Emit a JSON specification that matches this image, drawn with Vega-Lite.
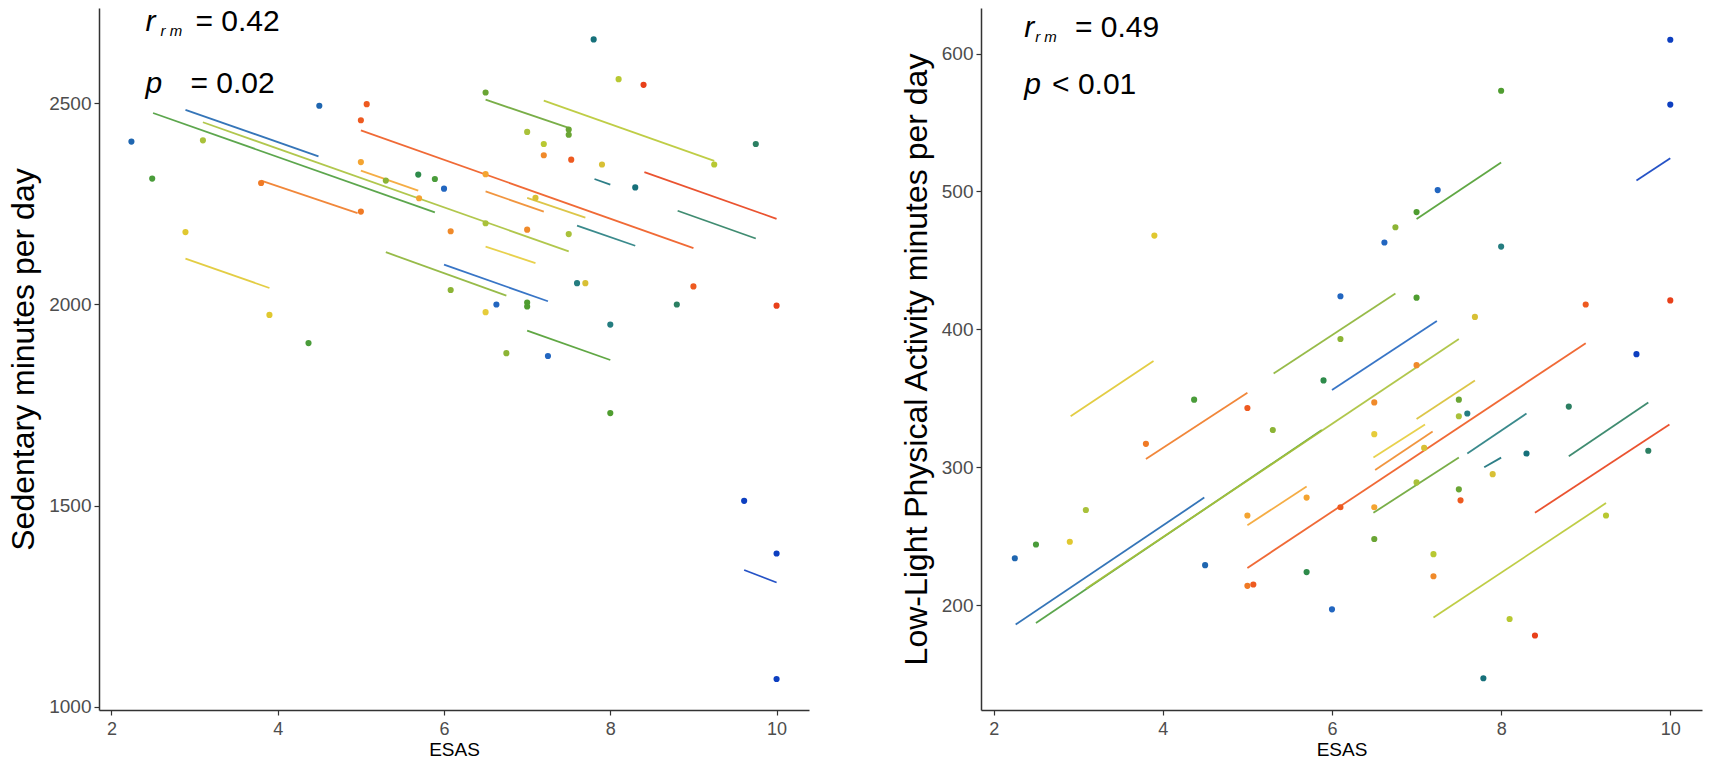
{
  "$schema": "https://vega.github.io/schema/vega-lite/v6.json",
  "background": "white",
  "padding": {"left": 7, "top": 7, "right": 5, "bottom": 0},
  "spacing": 91,
  "config": {
    "view": {"stroke": null},
    "font": "Liberation Sans",
    "axis": {
      "grid": false,
      "domainColor": "#333333",
      "domainWidth": 1.5,
      "tickColor": "#333333",
      "tickWidth": 1.2,
      "tickSize": 5,
      "labelColor": "#4d4d4d",
      "labelFont": "Liberation Sans",
      "titleFont": "Liberation Sans",
      "titleColor": "#000000",
      "titleFontWeight": "normal",
      "format": "d"
    },
    "axisX": {"labelFontSize": 18, "titleFontSize": 19, "labelPadding": 5, "titlePadding": 2},
    "axisY": {"labelFontSize": 19, "titleFontSize": 32, "labelPadding": 3, "titlePadding": 8}
  },
  "datasets": {
    "sedLines": [
      {"participant": "S01", "x1": 2.50, "y1": 2476, "x2": 5.89, "y2": 2229},
      {"participant": "S02", "x1": 2.89, "y1": 2484, "x2": 4.49, "y2": 2368},
      {"participant": "S03", "x1": 3.10, "y1": 2453, "x2": 7.50, "y2": 2132},
      {"participant": "S04", "x1": 3.80, "y1": 2308, "x2": 4.96, "y2": 2227},
      {"participant": "S05", "x1": 2.89, "y1": 2114, "x2": 3.90, "y2": 2041},
      {"participant": "S06", "x1": 5.00, "y1": 2433, "x2": 9.00, "y2": 2140},
      {"participant": "S07", "x1": 5.00, "y1": 2333, "x2": 5.69, "y2": 2283},
      {"participant": "S08", "x1": 5.30, "y1": 2130, "x2": 6.75, "y2": 2022},
      {"participant": "S09", "x1": 6.00, "y1": 2099, "x2": 7.25, "y2": 2008},
      {"participant": "S10", "x1": 6.50, "y1": 2509, "x2": 7.50, "y2": 2439},
      {"participant": "S11", "x1": 7.20, "y1": 2507, "x2": 9.25, "y2": 2357},
      {"participant": "S12", "x1": 7.81, "y1": 2312, "x2": 8.00, "y2": 2298},
      {"participant": "S13", "x1": 8.41, "y1": 2329, "x2": 10.0, "y2": 2213},
      {"participant": "S14", "x1": 8.81, "y1": 2233, "x2": 9.75, "y2": 2164},
      {"participant": "S15", "x1": 6.50, "y1": 2281, "x2": 7.20, "y2": 2231},
      {"participant": "S16", "x1": 7.00, "y1": 2265, "x2": 7.70, "y2": 2216},
      {"participant": "S17", "x1": 7.60, "y1": 2196, "x2": 8.30, "y2": 2146},
      {"participant": "S18", "x1": 6.50, "y1": 2144, "x2": 7.10, "y2": 2103},
      {"participant": "S19", "x1": 7.00, "y1": 1935, "x2": 8.00, "y2": 1862},
      {"participant": "S20", "x1": 9.61, "y1": 1340, "x2": 10.0, "y2": 1309}
    ],
    "sedPoints": [
      {"participant": "S02", "esas": 2.24, "minutes": 2405},
      {"participant": "S01", "esas": 2.49, "minutes": 2313},
      {"participant": "S03", "esas": 3.10, "minutes": 2408},
      {"participant": "S05", "esas": 2.89, "minutes": 2180},
      {"participant": "S04", "esas": 3.80, "minutes": 2302},
      {"participant": "S05", "esas": 3.90, "minutes": 1974},
      {"participant": "S01", "esas": 4.37, "minutes": 1904},
      {"participant": "S02", "esas": 4.50, "minutes": 2494},
      {"participant": "S06", "esas": 5.07, "minutes": 2498},
      {"participant": "S06", "esas": 5.00, "minutes": 2458},
      {"participant": "S07", "esas": 5.00, "minutes": 2354},
      {"participant": "S04", "esas": 5.00, "minutes": 2231},
      {"participant": "S08", "esas": 5.30, "minutes": 2308},
      {"participant": "S21", "esas": 5.69, "minutes": 2323},
      {"participant": "S01", "esas": 5.89, "minutes": 2312},
      {"participant": "S09", "esas": 6.00, "minutes": 2288},
      {"participant": "S07", "esas": 5.70, "minutes": 2264},
      {"participant": "S15", "esas": 6.08, "minutes": 2182},
      {"participant": "S08", "esas": 6.08, "minutes": 2036},
      {"participant": "S12", "esas": 7.80, "minutes": 2659},
      {"participant": "S11", "esas": 8.10, "minutes": 2560},
      {"participant": "S13", "esas": 8.40, "minutes": 2546},
      {"participant": "S10", "esas": 6.50, "minutes": 2527},
      {"participant": "S03", "esas": 7.00, "minutes": 2429},
      {"participant": "S10", "esas": 7.50, "minutes": 2435},
      {"participant": "S10", "esas": 7.50, "minutes": 2422},
      {"participant": "S11", "esas": 7.20, "minutes": 2399},
      {"participant": "S15", "esas": 7.20, "minutes": 2371},
      {"participant": "S06", "esas": 7.53, "minutes": 2360},
      {"participant": "S16", "esas": 7.90, "minutes": 2348},
      {"participant": "S11", "esas": 9.25, "minutes": 2348},
      {"participant": "S14", "esas": 9.75, "minutes": 2399},
      {"participant": "S07", "esas": 6.50, "minutes": 2324},
      {"participant": "S12", "esas": 8.30, "minutes": 2291},
      {"participant": "S16", "esas": 7.10, "minutes": 2265},
      {"participant": "S03", "esas": 6.50, "minutes": 2202},
      {"participant": "S15", "esas": 7.00, "minutes": 2186},
      {"participant": "S03", "esas": 7.50, "minutes": 2175},
      {"participant": "S17", "esas": 7.60, "minutes": 2053},
      {"participant": "S16", "esas": 7.70, "minutes": 2053},
      {"participant": "S06", "esas": 9.00, "minutes": 2045},
      {"participant": "S19", "esas": 7.00, "minutes": 2005},
      {"participant": "S19", "esas": 7.00, "minutes": 1995},
      {"participant": "S09", "esas": 6.63, "minutes": 2000},
      {"participant": "S18", "esas": 6.50, "minutes": 1981},
      {"participant": "S14", "esas": 8.80, "minutes": 2000},
      {"participant": "S17", "esas": 8.00, "minutes": 1950},
      {"participant": "S08", "esas": 6.75, "minutes": 1879},
      {"participant": "S09", "esas": 7.25, "minutes": 1872},
      {"participant": "S13", "esas": 10.0, "minutes": 1997},
      {"participant": "S19", "esas": 8.00, "minutes": 1730},
      {"participant": "S20", "esas": 9.61, "minutes": 1512},
      {"participant": "S20", "esas": 10.0, "minutes": 1381},
      {"participant": "S20", "esas": 10.0, "minutes": 1069}
    ],
    "lpaLines": [
      {"participant": "S01", "x1": 2.50, "y1": 187, "x2": 5.88, "y2": 327},
      {"participant": "S02", "x1": 2.26, "y1": 186, "x2": 4.49, "y2": 278},
      {"participant": "S03", "x1": 3.09, "y1": 212, "x2": 7.50, "y2": 393},
      {"participant": "S04", "x1": 3.80, "y1": 306, "x2": 5.00, "y2": 354},
      {"participant": "S05", "x1": 2.91, "y1": 337, "x2": 3.89, "y2": 377},
      {"participant": "S06", "x1": 5.00, "y1": 227, "x2": 9.00, "y2": 390},
      {"participant": "S07", "x1": 5.00, "y1": 258, "x2": 5.70, "y2": 286},
      {"participant": "S08", "x1": 5.31, "y1": 368, "x2": 6.75, "y2": 426},
      {"participant": "S09", "x1": 6.00, "y1": 356, "x2": 7.24, "y2": 406},
      {"participant": "S10", "x1": 6.49, "y1": 267, "x2": 7.50, "y2": 307},
      {"participant": "S11", "x1": 7.20, "y1": 191, "x2": 9.24, "y2": 274},
      {"participant": "S12", "x1": 7.80, "y1": 300, "x2": 8.00, "y2": 307},
      {"participant": "S13", "x1": 8.40, "y1": 267, "x2": 9.99, "y2": 331},
      {"participant": "S14", "x1": 8.80, "y1": 308, "x2": 9.74, "y2": 347},
      {"participant": "S15", "x1": 6.51, "y1": 298, "x2": 7.19, "y2": 326},
      {"participant": "S16", "x1": 7.00, "y1": 335, "x2": 7.69, "y2": 363},
      {"participant": "S17", "x1": 7.60, "y1": 310, "x2": 8.30, "y2": 339},
      {"participant": "S18", "x1": 6.49, "y1": 307, "x2": 7.10, "y2": 331},
      {"participant": "S19", "x1": 7.00, "y1": 480, "x2": 8.00, "y2": 521},
      {"participant": "S20", "x1": 9.60, "y1": 508, "x2": 10.0, "y2": 524}
    ],
    "lpaPoints": [
      {"participant": "S02", "esas": 2.25, "minutes": 234},
      {"participant": "S01", "esas": 2.50, "minutes": 244},
      {"participant": "S05", "esas": 2.90, "minutes": 246},
      {"participant": "S03", "esas": 3.09, "minutes": 269},
      {"participant": "S04", "esas": 3.80, "minutes": 317},
      {"participant": "S05", "esas": 3.90, "minutes": 468},
      {"participant": "S01", "esas": 4.37, "minutes": 349},
      {"participant": "S02", "esas": 4.50, "minutes": 229},
      {"participant": "S06", "esas": 5.00, "minutes": 343},
      {"participant": "S08", "esas": 5.30, "minutes": 327},
      {"participant": "S21", "esas": 5.90, "minutes": 363},
      {"participant": "S08", "esas": 6.10, "minutes": 393},
      {"participant": "S07", "esas": 5.00, "minutes": 265},
      {"participant": "S07", "esas": 5.70, "minutes": 278},
      {"participant": "S04", "esas": 5.00, "minutes": 214},
      {"participant": "S06", "esas": 5.07, "minutes": 215},
      {"participant": "S21", "esas": 5.70, "minutes": 224},
      {"participant": "S06", "esas": 6.10, "minutes": 271},
      {"participant": "S09", "esas": 6.00, "minutes": 197},
      {"participant": "S15", "esas": 6.50, "minutes": 347},
      {"participant": "S18", "esas": 6.50, "minutes": 324},
      {"participant": "S07", "esas": 6.50, "minutes": 271},
      {"participant": "S10", "esas": 6.50, "minutes": 248},
      {"participant": "S15", "esas": 7.00, "minutes": 374},
      {"participant": "S10", "esas": 7.50, "minutes": 349},
      {"participant": "S03", "esas": 7.50, "minutes": 337},
      {"participant": "S17", "esas": 7.60, "minutes": 339},
      {"participant": "S16", "esas": 7.09, "minutes": 314},
      {"participant": "S03", "esas": 7.00, "minutes": 289},
      {"participant": "S10", "esas": 7.50, "minutes": 284},
      {"participant": "S06", "esas": 7.52, "minutes": 276},
      {"participant": "S16", "esas": 7.90, "minutes": 295},
      {"participant": "S12", "esas": 8.30, "minutes": 310},
      {"participant": "S14", "esas": 8.80, "minutes": 344},
      {"participant": "S20", "esas": 9.60, "minutes": 382},
      {"participant": "S14", "esas": 9.74, "minutes": 312},
      {"participant": "S11", "esas": 9.24, "minutes": 265},
      {"participant": "S11", "esas": 7.20, "minutes": 237},
      {"participant": "S15", "esas": 7.20, "minutes": 221},
      {"participant": "S11", "esas": 8.10, "minutes": 190},
      {"participant": "S13", "esas": 8.40, "minutes": 178},
      {"participant": "S12", "esas": 7.79, "minutes": 147},
      {"participant": "S20", "esas": 10.0, "minutes": 610},
      {"participant": "S19", "esas": 8.00, "minutes": 573},
      {"participant": "S20", "esas": 10.0, "minutes": 563},
      {"participant": "S09", "esas": 7.25, "minutes": 501},
      {"participant": "S19", "esas": 7.00, "minutes": 485},
      {"participant": "S08", "esas": 6.75, "minutes": 474},
      {"participant": "S09", "esas": 6.62, "minutes": 463},
      {"participant": "S17", "esas": 8.00, "minutes": 460},
      {"participant": "S09", "esas": 6.10, "minutes": 424},
      {"participant": "S19", "esas": 7.00, "minutes": 423},
      {"participant": "S16", "esas": 7.69, "minutes": 409},
      {"participant": "S06", "esas": 9.00, "minutes": 418},
      {"participant": "S13", "esas": 10.0, "minutes": 421}
    ],
    "sedText": [
      {"kind": "symbol", "esas": 2.41, "minutes": 2679, "label": "r"},
      {"kind": "subscript", "esas": 2.59, "minutes": 2667, "label": "r m"},
      {"kind": "value", "esas": 3.01, "minutes": 2679, "label": "= 0.42"},
      {"kind": "symbol", "esas": 2.41, "minutes": 2525, "label": "p"},
      {"kind": "value", "esas": 2.95, "minutes": 2525, "label": "= 0.02"}
    ],
    "lpaText": [
      {"kind": "symbol", "esas": 2.36, "minutes": 612, "label": "r"},
      {"kind": "subscript", "esas": 2.49, "minutes": 608, "label": "r m"},
      {"kind": "value", "esas": 2.96, "minutes": 612, "label": "= 0.49"},
      {"kind": "symbol", "esas": 2.36, "minutes": 571, "label": "p"},
      {"kind": "value", "esas": 2.69, "minutes": 571, "label": "< 0.01"}
    ]
  },
  "hconcat": [
    {
      "width": 710,
      "height": 702,
      "layer": [
        {
          "data": {"name": "sedLines"},
          "mark": {"type": "rule", "strokeWidth": 1.8, "opacity": 0.9},
          "encoding": {
            "x": {
              "field": "x1", "type": "quantitative", "title": "ESAS",
              "scale": {"domain": [1.85, 10.39], "nice": false, "zero": false},
              "axis": {"values": [2, 4, 6, 8, 10]}
            },
            "y": {
              "field": "y1", "type": "quantitative", "title": "Sedentary minutes per day",
              "scale": {"domain": [992, 2737], "nice": false, "zero": false},
              "axis": {"values": [1000, 1500, 2000, 2500]}
            },
            "x2": {"field": "x2"},
            "y2": {"field": "y2"},
            "color": {
              "field": "participant", "type": "nominal", "legend": null,
              "scale": {
                "domain": ["S01","S02","S03","S04","S05","S06","S07","S08","S09","S10","S11","S12","S13","S14","S15","S16","S17","S18","S19","S20","S21"],
                "range": ["#4a9c3a","#1f66b0","#a9c13a","#f07a25","#e0c830","#ee5a20","#f4a431","#8cb435","#2266c0","#6aa534","#b8c832","#16707a","#e8401a","#2b7f62","#f08a2a","#d8c035","#257d80","#e6cc3a","#4f9d30","#0d3fc0","#2e8b4a"]
              }
            }
          }
        },
        {
          "data": {"name": "sedPoints"},
          "mark": {"type": "circle", "size": 38, "opacity": 1},
          "encoding": {
            "x": {"field": "esas", "type": "quantitative", "title": "ESAS"},
            "y": {"field": "minutes", "type": "quantitative", "title": "Sedentary minutes per day"},
            "color": {"field": "participant", "type": "nominal", "legend": null}
          }
        },
        {
          "data": {"name": "sedText"},
          "transform": [{"filter": "datum.kind === 'symbol'"}],
          "mark": {"type": "text", "align": "left", "baseline": "alphabetic", "fontSize": 30, "fontStyle": "italic", "color": "#000000"},
          "encoding": {
            "x": {"field": "esas", "type": "quantitative", "title": "ESAS"},
            "y": {"field": "minutes", "type": "quantitative", "title": "Sedentary minutes per day"},
            "text": {"field": "label"}
          }
        },
        {
          "data": {"name": "sedText"},
          "transform": [{"filter": "datum.kind === 'subscript'"}],
          "mark": {"type": "text", "align": "left", "baseline": "alphabetic", "fontSize": 15, "fontStyle": "italic", "color": "#000000"},
          "encoding": {
            "x": {"field": "esas", "type": "quantitative", "title": "ESAS"},
            "y": {"field": "minutes", "type": "quantitative", "title": "Sedentary minutes per day"},
            "text": {"field": "label"}
          }
        },
        {
          "data": {"name": "sedText"},
          "transform": [{"filter": "datum.kind === 'value'"}],
          "mark": {"type": "text", "align": "left", "baseline": "alphabetic", "fontSize": 30, "color": "#000000"},
          "encoding": {
            "x": {"field": "esas", "type": "quantitative", "title": "ESAS"},
            "y": {"field": "minutes", "type": "quantitative", "title": "Sedentary minutes per day"},
            "text": {"field": "label"}
          }
        }
      ]
    },
    {
      "width": 721,
      "height": 702,
      "layer": [
        {
          "data": {"name": "lpaLines"},
          "mark": {"type": "rule", "strokeWidth": 1.8, "opacity": 0.9},
          "encoding": {
            "x": {
              "field": "x1", "type": "quantitative", "title": "ESAS",
              "scale": {"domain": [1.85, 10.375], "nice": false, "zero": false},
              "axis": {"values": [2, 4, 6, 8, 10]}
            },
            "y": {
              "field": "y1", "type": "quantitative", "title": "Low-Light Physical Activity minutes per day",
              "scale": {"domain": [124, 633], "nice": false, "zero": false},
              "axis": {"values": [200, 300, 400, 500, 600]}
            },
            "x2": {"field": "x2"},
            "y2": {"field": "y2"},
            "color": {
              "field": "participant", "type": "nominal", "legend": null,
              "scale": {
                "domain": ["S01","S02","S03","S04","S05","S06","S07","S08","S09","S10","S11","S12","S13","S14","S15","S16","S17","S18","S19","S20","S21"],
                "range": ["#4a9c3a","#1f66b0","#a9c13a","#f07a25","#e0c830","#ee5a20","#f4a431","#8cb435","#2266c0","#6aa534","#b8c832","#16707a","#e8401a","#2b7f62","#f08a2a","#d8c035","#257d80","#e6cc3a","#4f9d30","#0d3fc0","#2e8b4a"]
              }
            }
          }
        },
        {
          "data": {"name": "lpaPoints"},
          "mark": {"type": "circle", "size": 38, "opacity": 1},
          "encoding": {
            "x": {"field": "esas", "type": "quantitative", "title": "ESAS"},
            "y": {"field": "minutes", "type": "quantitative", "title": "Low-Light Physical Activity minutes per day"},
            "color": {"field": "participant", "type": "nominal", "legend": null}
          }
        },
        {
          "data": {"name": "lpaText"},
          "transform": [{"filter": "datum.kind === 'symbol'"}],
          "mark": {"type": "text", "align": "left", "baseline": "alphabetic", "fontSize": 30, "fontStyle": "italic", "color": "#000000"},
          "encoding": {
            "x": {"field": "esas", "type": "quantitative", "title": "ESAS"},
            "y": {"field": "minutes", "type": "quantitative", "title": "Low-Light Physical Activity minutes per day"},
            "text": {"field": "label"}
          }
        },
        {
          "data": {"name": "lpaText"},
          "transform": [{"filter": "datum.kind === 'subscript'"}],
          "mark": {"type": "text", "align": "left", "baseline": "alphabetic", "fontSize": 15, "fontStyle": "italic", "color": "#000000"},
          "encoding": {
            "x": {"field": "esas", "type": "quantitative", "title": "ESAS"},
            "y": {"field": "minutes", "type": "quantitative", "title": "Low-Light Physical Activity minutes per day"},
            "text": {"field": "label"}
          }
        },
        {
          "data": {"name": "lpaText"},
          "transform": [{"filter": "datum.kind === 'value'"}],
          "mark": {"type": "text", "align": "left", "baseline": "alphabetic", "fontSize": 30, "color": "#000000"},
          "encoding": {
            "x": {"field": "esas", "type": "quantitative", "title": "ESAS"},
            "y": {"field": "minutes", "type": "quantitative", "title": "Low-Light Physical Activity minutes per day"},
            "text": {"field": "label"}
          }
        }
      ]
    }
  ]
}
